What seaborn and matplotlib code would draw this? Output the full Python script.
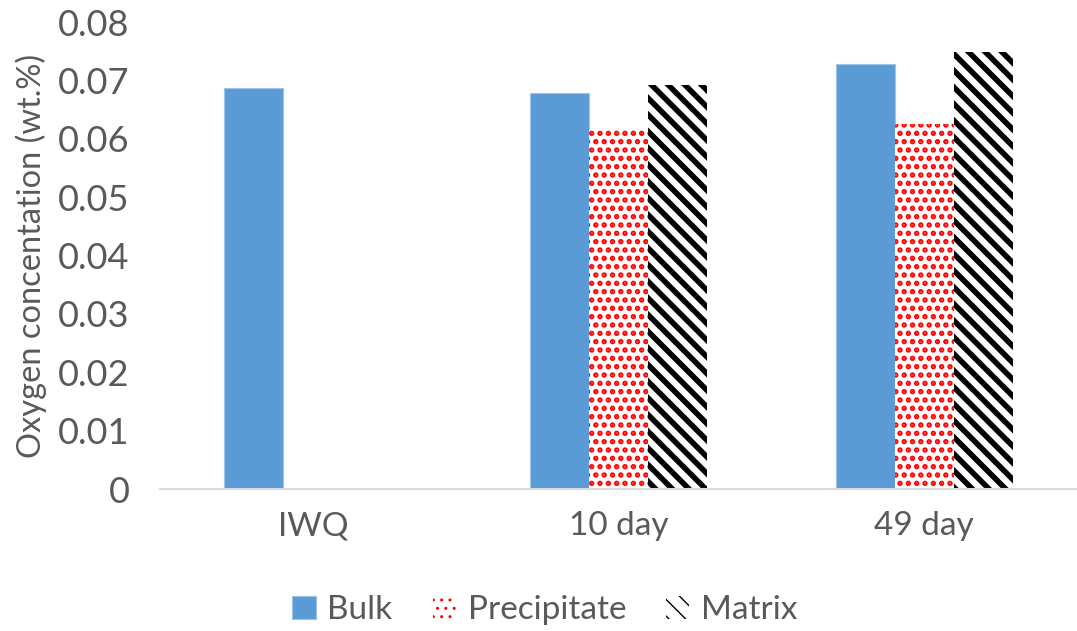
import matplotlib
matplotlib.use("Agg")
import matplotlib.pyplot as plt
import seaborn as sns
import pandas as pd
import numpy as np
from matplotlib.patches import Patch

# Oxygen concentration per condition and region
categories = ["IWQ", "10 day", "49 day"]
series = ["Bulk", "Precipitate", "Matrix"]
bulk = [0.0687, 0.0678, 0.0729]
precipitate = [np.nan, 0.0615, 0.0625]
matrix = [np.nan, 0.0692, 0.0748]
yticks = [0, 0.01, 0.02, 0.03, 0.04, 0.05, 0.06, 0.07, 0.08]
ytick_labels = ["0", "0.01", "0.02", "0.03", "0.04", "0.05", "0.06", "0.07", "0.08"]

df = pd.DataFrame({
    "Condition": categories * 3,
    "Region": [s for s in series for _ in categories],
    "Oxygen": bulk + precipitate + matrix,
})

sns.set_theme(style="white")
plt.rcParams["font.family"] = ["Lato", "DejaVu Sans"]
text_color = "#595959"

fig = plt.figure(figsize=(10.77, 6.31), dpi=100)
ax = fig.add_axes([160 / 1077, 0.225, 917 / 1077, 0.74])

palette = {"Bulk": "#5B9BD5", "Precipitate": "white", "Matrix": "white"}
sns.barplot(data=df, x="Condition", y="Oxygen", hue="Region", order=categories,
            hue_order=series, palette=palette, width=0.58, gap=0, saturation=1,
            ax=ax, legend=False, errorbar=None)

# Styling of the three series: solid, red dots, black diagonal stripes
styles = {
    "Bulk": dict(facecolor="#5B9BD5", edgecolor="#9DC3E6", linewidth=0.8, hatch=None, hlw=1.0),
    "Precipitate": dict(facecolor="white", edgecolor="#FF0000", linewidth=0, hatch="..", hlw=2.6),
    "Matrix": dict(facecolor="white", edgecolor="black", linewidth=0, hatch="\\\\", hlw=4.0),
}


def apply_style(p, st):
    p.set_facecolor(st["facecolor"])
    p.set_edgecolor(st["edgecolor"])
    p.set_linewidth(st["linewidth"])
    if st["hatch"]:
        p.set_hatch(st["hatch"])
        if hasattr(p, "set_hatch_linewidth"):
            p.set_hatch_linewidth(st["hlw"])
        else:
            p._hatch_linewidth = st["hlw"]


for cont, name in zip(ax.containers, series):
    for p in cont.patches:
        apply_style(p, styles[name])

ax.set_ylim(0, 0.08)
ax.set_yticks(yticks)
ax.set_yticklabels(ytick_labels)
ax.set_xlim(-0.5, 2.5)
ax.set_xlabel("")
ax.set_ylabel("Oxygen concentation (wt.%)", fontsize=23.5, color=text_color, labelpad=8)
ax.tick_params(axis="y", length=0, pad=22, labelsize=26, labelcolor=text_color)
ax.tick_params(axis="x", length=0, pad=16, labelsize=24, labelcolor=text_color)

for side in ["left", "right", "top"]:
    ax.spines[side].set_visible(False)
ax.spines["bottom"].set_color("#D9D9D9")
ax.spines["bottom"].set_linewidth(1.5)
ax.grid(False)

handles = []
for s in series:
    h = Patch(label=s)
    apply_style(h, styles[s])
    handles.append(h)
leg = fig.legend(handles=handles, loc="center", bbox_to_anchor=(0.506, 0.033), ncol=3,
                 frameon=False, fontsize=24, handlelength=0.7, handleheight=0.7,
                 handletextpad=0.35, columnspacing=1.2)
for t in leg.get_texts():
    t.set_color(text_color)

fig.savefig("out.png", dpi=100)
